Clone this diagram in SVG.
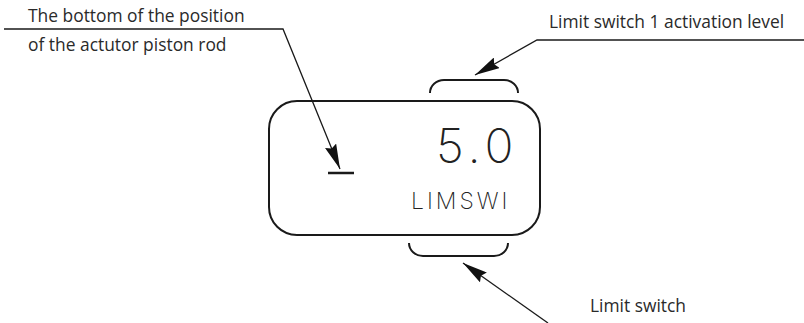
<svg xmlns="http://www.w3.org/2000/svg" width="804" height="323" viewBox="0 0 804 323">
<style>
.lbl{font-family:"Open Sans","Noto Sans","Liberation Sans",sans-serif;font-size:17.4px;fill:#2a2a2a}
.ln{stroke:#1a1a1a;stroke-width:1.3;fill:none}
.shape{stroke:#1a1a1a;stroke-width:2;fill:none}
.disp{font-family:Inter,"Liberation Mono",monospace;font-weight:200;fill:#222}
</style>
<defs>
<marker id="ah" markerUnits="userSpaceOnUse" markerWidth="26" markerHeight="12" refX="25" refY="6" orient="auto">
<path d="M0,0 L25,6 L0,12 L3,6 z" fill="#111"/>
</marker>
</defs>
<g id="display">
<rect x="269" y="101" width="271" height="134" rx="28" ry="28" class="shape"/>
<text x="436" y="163" class="disp" font-size="48" letter-spacing="5">5.0</text>
<text x="411" y="209" class="disp" font-size="23" letter-spacing="3">LIMSWI</text>
<line x1="328" y1="173" x2="354" y2="173" stroke="#1a1a1a" stroke-width="2.5"/>
</g>
<g id="top-bracket">
<path d="M430,93 A14,13 0 0 1 444,80 L504,80 A14,13 0 0 1 518,93" class="shape" stroke-width="1.6"/>
</g>
<g id="bottom-bracket">
<path d="M409,243 A14,13 0 0 0 423,256 L494,256 A14,13 0 0 0 508,243" class="shape" stroke-width="1.6"/>
</g>
<g id="label-piston">
<text x="28" y="22" class="lbl">The bottom of the position</text>
<text x="28" y="51" class="lbl">of the actutor piston rod</text>
</g>
<g id="label-activation">
<text x="549" y="28" class="lbl">Limit switch 1 activation level</text>
</g>
<g id="label-switch">
<text x="590" y="312" class="lbl">Limit switch</text>
</g>
<g id="connectors">
<path d="M4,29 L283,29 L340,169" class="ln" marker-end="url(#ah)"/>
<path d="M804,40 L537,40 L475,75" class="ln" marker-end="url(#ah)"/>
<path d="M548,323 L463,263" class="ln" marker-end="url(#ah)"/>
</g>
</svg>
